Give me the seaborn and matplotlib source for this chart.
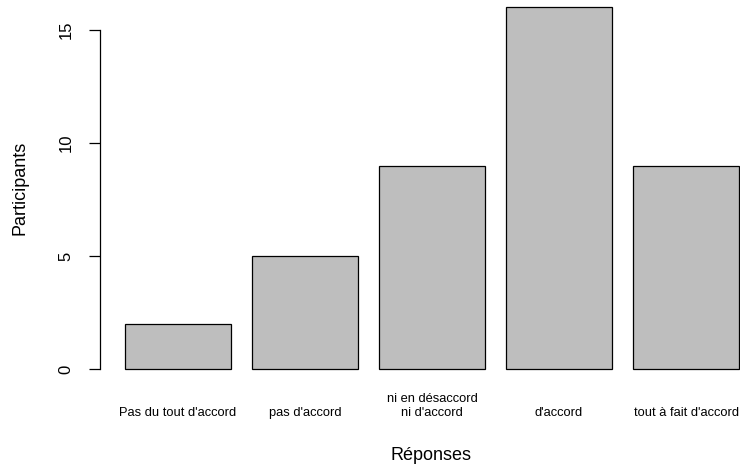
import pandas as pd
import seaborn as sns
import matplotlib.pyplot as plt

# Data
reponses = ["Pas du tout d'accord", "pas d'accord", "ni en désaccord\nni d'accord",
            "d'accord", "tout à fait d'accord"]
participants = [2, 5, 9, 16, 9]
y_ticks = [0, 5, 10, 15]

df = pd.DataFrame({"Réponses": reponses, "Participants": participants})

sns.set_theme(style="white")
plt.rcParams["font.family"] = ["Liberation Sans", "DejaVu Sans"]

fig = plt.figure(figsize=(7.4, 4.67), dpi=100)
# R-like plot region (extends a bit past the right and top edges)
ax = fig.add_axes([100 / 740, 1 - 383.5 / 467, 663 / 740, 390.5 / 467])

sns.barplot(data=df, x="Réponses", y="Participants", color="#bebebe",
            saturation=1, edgecolor="black", linewidth=0.9, width=1 / 1.2, ax=ax)

ax.set_xlim(-0.614, 4.606)
ax.set_ylim(-0.64, 16.64)

# spines: only the y axis, drawn from 0 to 15 like base R
for s in ["top", "right", "bottom"]:
    ax.spines[s].set_visible(False)
ax.spines["left"].set_bounds(0, 15)
ax.spines["left"].set_color("black")
ax.spines["left"].set_linewidth(0.9)

ax.set_yticks(y_ticks)
ax.tick_params(axis="y", left=True, length=8, width=0.9, color="black",
               pad=11, labelsize=12, labelcolor="black")
for lab in ax.get_yticklabels():
    lab.set_rotation(90)
    lab.set_va("center")

ax.tick_params(axis="x", bottom=False, length=0, pad=25.6, labelsize=9.3,
               labelcolor="black")
for lab in ax.get_xticklabels():
    lab.set_va("bottom")
    lab.set_multialignment("center")

ax.set_xlabel("Réponses", fontsize=13, color="black", va="center")
ax.xaxis.set_label_coords(0.5, (383.5 - 455) / 390.5)
ax.set_ylabel("Participants", fontsize=13, color="black", va="center")
ax.yaxis.set_label_coords((20 - 100) / 663, 0.5)

fig.savefig("out.png", dpi=100)
